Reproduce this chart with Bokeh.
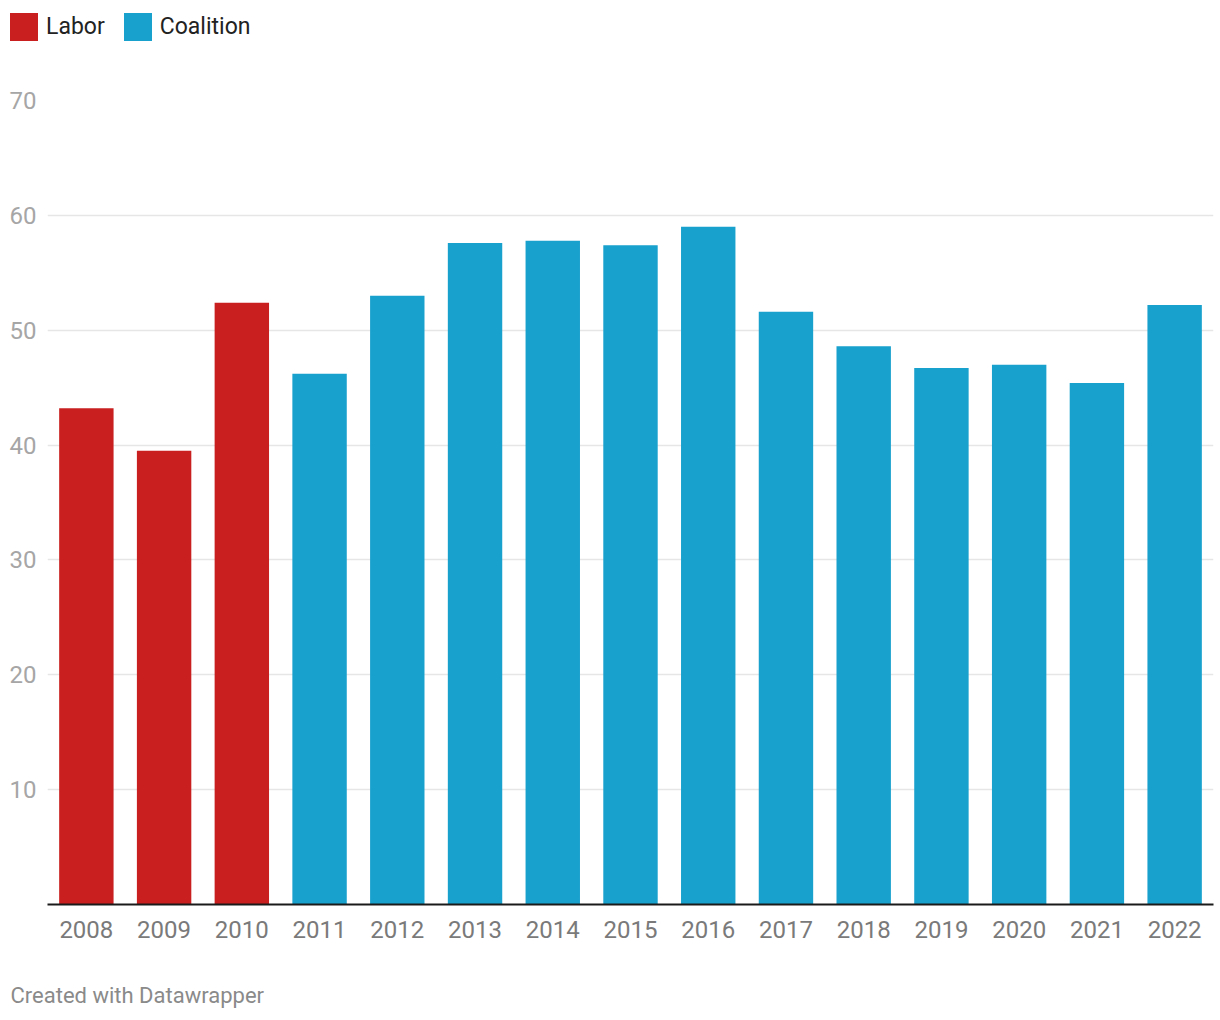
from bokeh.plotting import figure
from bokeh.layouts import column, row
from bokeh.models import ColumnDataSource, Legend, LegendItem, Title, FactorRange, Range1d, FixedTicker
from bokeh.embed import file_html
from bokeh.resources import INLINE

years = ["2008", "2009", "2010", "2011", "2012", "2013", "2014", "2015",
         "2016", "2017", "2018", "2019", "2020", "2021", "2022"]
values = [43.2, 39.5, 52.4, 46.2, 53.0, 57.6, 57.8, 57.4,
          59.0, 51.6, 48.6, 46.7, 47.0, 45.4, 52.2]
party = ["Labor", "Labor", "Labor", "Coalition", "Coalition", "Coalition", "Coalition", "Coalition",
         "Coalition", "Coalition", "Coalition", "Coalition", "Coalition", "Coalition", "Coalition"]
parties = ["Labor", "Coalition"]
party_colors = {"Labor": "#c91f1f", "Coalition": "#19a1cd"}
y_ticks = [10, 20, 30, 40, 50, 60, 70]

FONT = "Roboto"

# ---- main chart ----
p = figure(x_range=FactorRange(*years), y_range=Range1d(0, 70),
           frame_width=1166, frame_height=804,
           min_border_left=47, min_border_right=2, min_border_top=40, min_border_bottom=110,
           output_backend="svg", toolbar_location=None, tools="")
p.outline_line_color = None
p.background_fill_color = "white"
p.border_fill_color = "white"

for pt in parties:
    xs = [y for y, pp in zip(years, party) if pp == pt]
    vs = [v for v, pp in zip(values, party) if pp == pt]
    src = ColumnDataSource(dict(x=xs, top=vs))
    p.vbar(x="x", top="top", width=0.7, source=src,
           fill_color=party_colors[pt], line_color=None)

p.xgrid.grid_line_color = None
p.ygrid.ticker = FixedTicker(ticks=y_ticks)
p.ygrid.grid_line_color = "#e6e6e6"
p.ygrid.grid_line_width = 1.5

p.yaxis.ticker = FixedTicker(ticks=y_ticks)
p.yaxis.axis_line_color = None
p.yaxis.major_tick_line_color = None
p.yaxis.minor_tick_line_color = None
p.yaxis.major_tick_out = 0
p.yaxis.major_tick_in = 0
p.yaxis.major_label_standoff = 11
p.yaxis.major_label_text_font = FONT
p.yaxis.major_label_text_font_size = "24px"
p.yaxis.major_label_text_color = "#a6a6a6"

p.xaxis.axis_line_color = "#1a1a1a"
p.xaxis.axis_line_width = 2
p.xaxis.major_tick_line_color = None
p.xaxis.major_tick_out = 0
p.xaxis.major_tick_in = 0
p.xaxis.major_label_standoff = 16
p.xaxis.major_label_text_font = FONT
p.xaxis.major_label_text_font_size = "24px"
p.xaxis.major_label_text_color = "#7a7a7a"

credit = Title(text="Created with Datawrapper", align="left", offset=-37, standoff=80,
               text_font=FONT, text_font_size="22px", text_font_style="normal",
               text_color="#8a8a8a")
p.add_layout(credit, "below")

# ---- legend strip on top ----
lg = figure(width=1215, height=60, x_range=Range1d(0, 1), y_range=Range1d(0, 1),
            min_border=0, min_border_left=0, min_border_right=0,
            min_border_top=0, min_border_bottom=0,
            x_axis_location=None, y_axis_location=None,
            output_backend="svg", toolbar_location=None, tools="")
lg.outline_line_color = None
lg.grid.grid_line_color = None
lg.background_fill_color = "white"
lg.border_fill_color = "white"

items = []
for pt in parties:
    # proxy glyph kept outside the visible range; only its legend swatch is shown
    r = lg.vbar(x=[-5], top=[-5], width=0.7, fill_color=party_colors[pt], line_color=None)
    items.append(LegendItem(label=pt, renderers=[r]))

legend = Legend(items=items, location=(6, 16), orientation="horizontal",
                glyph_width=35, glyph_height=35, label_height=35,
                label_standoff=5, spacing=15, padding=0, margin=0,
                label_text_font=FONT, label_text_font_size="23px",
                label_text_color="#222222",
                border_line_color=None, background_fill_alpha=0)
lg.add_layout(legend, "center")

layout = column(row(lg), p, spacing=0)
open("out.html", "w").write(file_html(layout, INLINE))
